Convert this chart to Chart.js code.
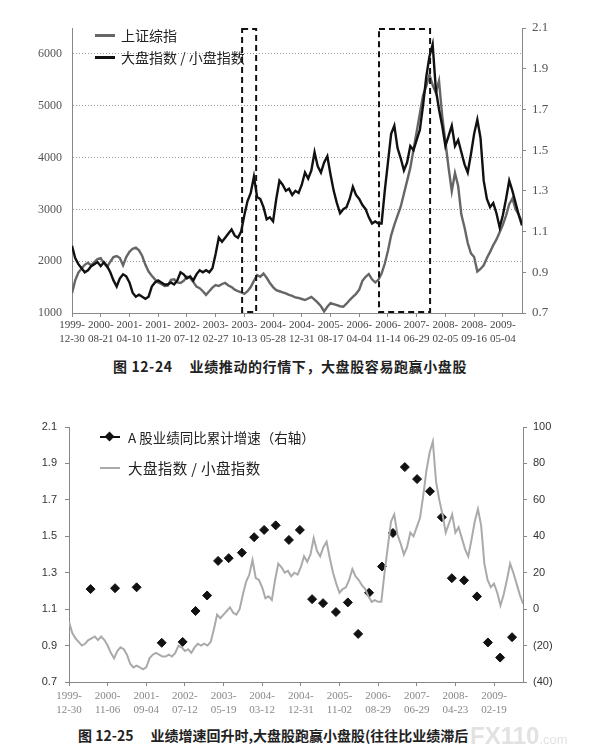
<!DOCTYPE html>
<html lang="zh">
<head>
<meta charset="UTF-8">
<title>大盘指数 / 小盘指数</title>
<script src="https://cdn.jsdelivr.net/npm/chart.js"></script>
<style>
    body {
        margin: 0;
        width: 601px;
        height: 755px;
        position: relative;
        overflow: hidden;
        background: #fff;
        font-family: "Noto Sans CJK SC", sans-serif;
    }
    canvas { position: absolute; left: 0; }
    #c1 { top: 0; }
    #c2 { top: 400px; }
    .legend { position: absolute; color: #222; font-size: 14px; }
    .row { display: flex; align-items: center; white-space: nowrap; }
    .ln { display: inline-block; width: 20px; height: 3px; margin-right: 6px; position: relative; }
    .dia { position: absolute; left: 6px; top: -3px; width: 7px; height: 7px; background: #111; transform: rotate(45deg); }
    .caption { position: absolute; font-size: 14px; font-weight: bold; color: #222; white-space: nowrap; }
    .caption span { margin-right: 17px; }
    .mark { position: absolute; left: 470px; top: 722px; color: #e2e2e2; font: bold 24px "Liberation Sans", sans-serif; }
    .mark small { font-size: 13px; font-weight: normal; }
</style>
</head>
<body>
<canvas id="c1" width="601" height="350"></canvas>
<canvas id="c2" width="601" height="325"></canvas>

<div class="legend" style="left:95px; top:24px;">
    <div class="row" style="height:22px;"><span class="ln" style="background:#666;"></span>上证综指</div>
    <div class="row" style="height:22px;"><span class="ln" style="background:#111;"></span>大盘指数 / 小盘指数</div>
</div>
<div class="legend" style="left:100px; top:421px;">
    <div class="row" style="height:31px; font-size:13.5px;"><span class="ln" style="background:#111; height:2px; margin-right:8px;"><i class="dia"></i></span>A 股业绩同比累计增速（右轴）</div>
    <div class="row" style="height:31px; font-size:14.5px; letter-spacing:0.4px;"><span class="ln" style="background:#aaa; height:2px; margin-right:8px;"></span>大盘指数 / 小盘指数</div>
</div>

<div class="caption" style="left:113px; top:356px; letter-spacing:0.6px;"><span>图 12-24</span>业绩推动的行情下，大盘股容易跑赢小盘股</div>
<div class="caption" style="left:78px; top:725px;"><span>图 12-25</span>业绩增速回升时,大盘股跑赢小盘股(往往比业绩滞后</div>
<div class="mark">FX110<small>.com</small></div>

<script>
    // 大盘指数 / 小盘指数 (两张图共用)
    const ratio = [
        1.03, 0.97, 0.94, 0.92, 0.90, 0.91, 0.93, 0.94, 0.95, 0.93,
        0.95, 0.93, 0.90, 0.86, 0.83, 0.87, 0.89, 0.88, 0.85, 0.80,
        0.78, 0.79, 0.78, 0.77, 0.78, 0.83, 0.85, 0.86, 0.85, 0.84,
        0.84, 0.85, 0.84, 0.86, 0.90, 0.89, 0.87, 0.88, 0.86, 0.89,
        0.91, 0.90, 0.91, 0.90, 0.92, 0.99, 1.07, 1.05, 1.07, 1.09,
        1.11, 1.08, 1.07, 1.10, 1.18, 1.25, 1.29, 1.37, 1.27, 1.26,
        1.22, 1.16, 1.17, 1.15, 1.26, 1.35, 1.33, 1.30, 1.31, 1.28,
        1.30, 1.29, 1.33, 1.39, 1.36, 1.40, 1.49, 1.42, 1.39, 1.44,
        1.47, 1.38, 1.30, 1.24, 1.19, 1.21, 1.22, 1.26, 1.32, 1.28,
        1.26, 1.23, 1.21, 1.17, 1.14, 1.15, 1.14, 1.14, 1.30, 1.44,
        1.58, 1.62, 1.51, 1.46, 1.40, 1.44, 1.52, 1.50, 1.55, 1.60,
        1.72, 1.86, 1.96, 2.02, 1.80, 1.70, 1.62, 1.52, 1.57, 1.62,
        1.52, 1.55, 1.49, 1.43, 1.39, 1.48, 1.58, 1.65, 1.56, 1.35,
        1.26, 1.22, 1.24, 1.19, 1.12, 1.18, 1.26, 1.35, 1.30, 1.24,
        1.18, 1.13
    ];
    // 上证综指
    const sse = [
        1380, 1630, 1780, 1860, 1930, 1970, 1920, 1980, 2040, 2060,
        1960, 1890, 1990, 2080, 2100, 2060, 1920, 2080, 2180, 2240,
        2260, 2210, 2100, 1930, 1800, 1720, 1650, 1590, 1560, 1520,
        1530, 1640, 1650, 1590, 1580, 1620, 1700, 1680, 1600, 1510,
        1480, 1420, 1350, 1420, 1490, 1540, 1520, 1560, 1580, 1530,
        1500, 1450, 1420, 1400, 1370, 1420, 1500, 1620, 1730, 1700,
        1760, 1680, 1580, 1500, 1440, 1420, 1400, 1380, 1350, 1330,
        1300, 1290, 1270, 1250, 1280, 1310, 1260, 1200, 1130, 1030,
        1120, 1190, 1170, 1150, 1130, 1120, 1180, 1250, 1310, 1370,
        1450, 1620, 1700, 1750, 1650, 1590, 1640, 1760, 1950, 2200,
        2500, 2700, 2880, 3050, 3300, 3550, 3800, 4150, 4500, 4850,
        5200, 5380, 5600, 5400, 5250, 5480, 4800, 4300, 3800, 3350,
        3700, 3450, 2900, 2650, 2350, 2150, 2080, 1800, 1850, 1920,
        2060, 2180, 2310, 2420, 2560, 2700, 2880, 3100, 3210, 3000,
        2900, 2750
    ];
    // A股业绩同比累计增速 (%), 位置为序列下标
    const growthX = [6.7, 14.3, 21, 28.8, 35.3, 39.3, 42.9, 46.3, 49.6, 53.7, 57.5, 60.6, 64.2, 68.3, 71.7, 75.5, 78.9,
        82.9, 86.6, 89.8, 93.2, 97.2, 100.6, 104.3, 108.1, 112.1, 115.8, 118.9, 122.7, 126.7, 130.1, 133.9, 137.6];
    const growthY = [11, 11.5, 12, -18.5, -18, -1, 7.5, 26.5, 28, 31, 39.5, 43.5, 46, 38, 43.5, 5.5, 3.3,
        -1.6, 3.7, -13.6, 9, 23.4, 41.8, 78, 71.4, 64.7, 50.5, 17, 15.8, 7, -18.3, -26.6, -15.4];

    const topTicks = ['1999-12-30', '2000-08-21', '2001-04-10', '2001-11-20', '2002-07-12', '2003-02-27', '2003-10-13', '2004-05-28',
        '2004-12-31', '2005-08-17', '2006-04-04', '2006-11-14', '2007-06-29', '2008-02-05', '2008-09-16', '2009-05-04'];
    const bottomTicks = ['1999-12-30', '2000-11-06', '2001-09-04', '2002-07-12', '2003-05-19', '2004-03-12',
        '2004-12-31', '2005-11-02', '2006-08-29', '2007-06-29', '2008-04-23', '2009-02-19'];
    const sseTicks = [1000, 2000, 3000, 4000, 5000, 6000];

    // 虚线框 (下标范围)
    const boxFrom = [53.3, 96.2];
    const boxTo = [57.7, 112.2];

    const lastIndex = ratio.length - 1;
    const serif = { family: '"Liberation Serif", serif', size: 11 };
    const split = d => [d.slice(0, 5), d.slice(5)];

    const boxPlugin = {
        id: 'boxes',
        afterDatasetsDraw(chart) {
            const { ctx, chartArea, scales } = chart;
            ctx.save();
            ctx.setLineDash([6, 4]);
            ctx.lineWidth = 2;
            ctx.strokeStyle = '#111';
            boxFrom.forEach((f, i) => {
                const x1 = scales.x.getPixelForValue(f);
                const x2 = scales.x.getPixelForValue(boxTo[i]);
                ctx.strokeRect(x1, chartArea.top + 1, x2 - x1, chartArea.bottom - chartArea.top - 2);
            });
            ctx.restore();
        }
    };

    // 图 12-24
    new Chart(document.getElementById('c1'), {
        type: 'line',
        data: {
            datasets: [{
                label: '大盘指数 / 小盘指数',
                data: ratio.map((v, i) => ({ x: i, y: v })),
                yAxisID: 'yR',
                borderColor: '#111',
                borderWidth: 2.4,
                pointRadius: 0,
                order: 0
            }, {
                label: '上证综指',
                data: sse.map((v, i) => ({ x: i, y: v })),
                yAxisID: 'y',
                borderColor: '#666',
                borderWidth: 2.4,
                pointRadius: 0,
                order: 1
            }]
        },
        options: {
            responsive: false,
            animation: false,
            layout: { padding: { top: 28 } },
            plugins: { legend: { display: false }, tooltip: { enabled: false } },
            scales: {
                x: {
                    type: 'linear', min: 0, max: lastIndex,
                    afterBuildTicks: s => { s.ticks = topTicks.map((_, i) => ({ value: i * 9 })); },
                    afterFit: s => { s.height = 37; },
                    ticks: { callback: (v, i) => split(topTicks[i]), autoSkip: false, maxRotation: 0, font: serif, color: '#444', padding: 2 },
                    grid: { drawOnChartArea: false, tickLength: 4, color: '#888' },
                    border: { color: '#888' }
                },
                y: {
                    position: 'left', min: 1000, max: 6500,
                    afterBuildTicks: s => { s.ticks = sseTicks.map(v => ({ value: v })); },
                    afterFit: s => { s.width = 72; },
                    ticks: { callback: v => String(v), font: { family: '"Liberation Serif", serif', size: 12 }, color: '#555', padding: 10 },
                    grid: { color: '#999', drawTicks: false },
                    border: { color: '#888', dash: [1, 2] }
                },
                yR: {
                    position: 'right', min: 0.7, max: 2.1,
                    afterFit: s => { s.width = 79; },
                    ticks: { stepSize: 0.2, callback: v => v.toFixed(1), font: { family: '"Liberation Serif", serif', size: 13 }, color: '#555', padding: 6 },
                    grid: { drawOnChartArea: false, tickLength: 4, color: '#888' },
                    border: { color: '#888' }
                }
            }
        },
        plugins: [boxPlugin]
    });

    // 图 12-25
    new Chart(document.getElementById('c2'), {
        type: 'line',
        data: {
            datasets: [{
                label: '大盘指数 / 小盘指数',
                data: ratio.map((v, i) => ({ x: i, y: v })),
                yAxisID: 'y',
                borderColor: '#aaa',
                borderWidth: 2,
                pointRadius: 0,
                order: 0
            }, {
                type: 'scatter',
                label: 'A 股业绩同比累计增速（右轴）',
                data: growthX.map((x, i) => ({ x: x, y: growthY[i] })),
                yAxisID: 'yR',
                pointStyle: 'rectRot',
                pointRadius: 4.5,
                backgroundColor: '#111',
                borderColor: '#111',
                order: 1
            }]
        },
        options: {
            responsive: false,
            animation: false,
            layout: { padding: { top: 27 } },
            plugins: { legend: { display: false }, tooltip: { enabled: false } },
            scales: {
                x: {
                    type: 'linear', min: 0, max: lastIndex,
                    afterBuildTicks: s => { s.ticks = bottomTicks.map((_, i) => ({ value: i * 12 })); },
                    afterFit: s => { s.height = 43; },
                    ticks: { callback: (v, i) => split(bottomTicks[i]), autoSkip: false, maxRotation: 0, font: serif, color: '#888', padding: 4 },
                    grid: { drawOnChartArea: false, tickLength: 4, color: '#888' },
                    border: { color: '#888' }
                },
                y: {
                    position: 'left', min: 0.7, max: 2.1,
                    afterFit: s => { s.width = 69; },
                    ticks: { stepSize: 0.2, callback: v => v.toFixed(1), font: { family: '"Liberation Sans", sans-serif', size: 11 }, color: '#333', padding: 8 },
                    grid: { drawOnChartArea: false, tickLength: 4, color: '#888' },
                    border: { color: '#888' }
                },
                yR: {
                    position: 'right', min: -40, max: 100,
                    afterFit: s => { s.width = 78; },
                    ticks: { stepSize: 20, callback: v => v < 0 ? '(' + (-v) + ')' : String(v), font: { family: '"Liberation Sans", sans-serif', size: 11 }, color: '#333', padding: 6 },
                    grid: { drawOnChartArea: false, tickLength: 4, color: '#888' },
                    border: { color: '#888' }
                }
            }
        }
    });
</script>
</body>
</html>
